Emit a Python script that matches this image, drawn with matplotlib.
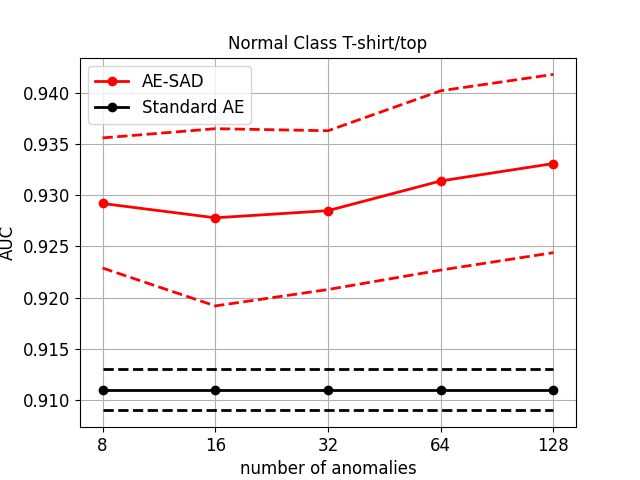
import matplotlib
matplotlib.use("Agg")
import matplotlib.pyplot as plt
import numpy as np

# data
n_anomalies = ["8", "16", "32", "64", "128"]
aesad_mean = [0.9292, 0.9278, 0.9285, 0.9314, 0.9331]
aesad_upper = [0.9356, 0.9365, 0.9363, 0.9402, 0.9418]
aesad_lower = [0.9229, 0.9192, 0.9208, 0.9227, 0.9244]
ae_mean = [0.911, 0.911, 0.911, 0.911, 0.911]
ae_upper = [0.913, 0.913, 0.913, 0.913, 0.913]
ae_lower = [0.909, 0.909, 0.909, 0.909, 0.909]

x = np.arange(len(n_anomalies))

fig, ax = plt.subplots(figsize=(6.4, 4.8), dpi=100)
ax.plot(x, aesad_mean, color="red", marker="o", linewidth=2, label="AE-SAD")
ax.plot(x, aesad_upper, color="red", linestyle="--", linewidth=2)
ax.plot(x, aesad_lower, color="red", linestyle="--", linewidth=2)
ax.plot(x, ae_mean, color="black", marker="o", linewidth=2, label="Standard AE")
ax.plot(x, ae_upper, color="black", linestyle="--", linewidth=2)
ax.plot(x, ae_lower, color="black", linestyle="--", linewidth=2)

ax.set_xticks(x)
ax.set_xticklabels(n_anomalies)
ax.tick_params(labelsize=12)
ax.set_xlabel("number of anomalies", fontsize=12)
ax.set_ylabel("AUC", fontsize=12)
ax.set_title("Normal Class T-shirt/top", fontsize=12)
ax.grid(True)
ax.legend(loc="upper left", fontsize=12)

plt.savefig("out.png")
